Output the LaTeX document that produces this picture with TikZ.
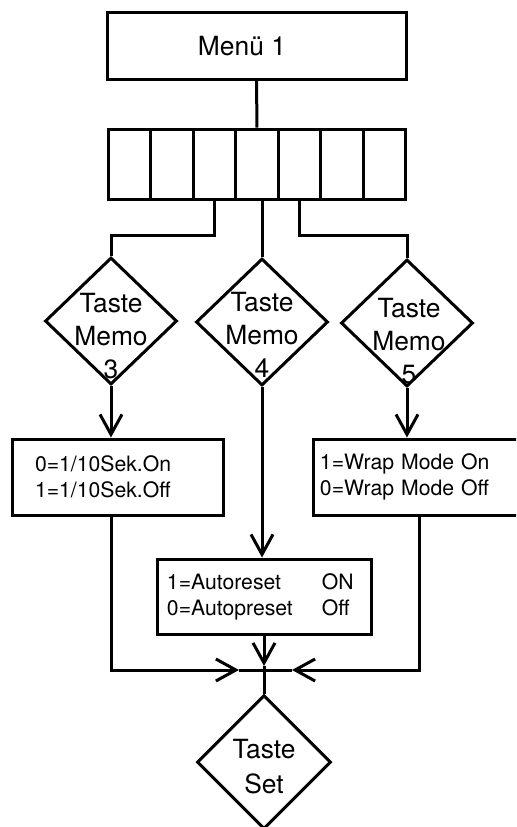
\documentclass[tikz,border=0pt]{standalone}
\usepackage{fontspec}
\setmainfont{TeX Gyre Heros}
\usetikzlibrary{shapes.geometric,arrows.meta}

\begin{document}
\begin{tikzpicture}[x=0.5pt,y=-0.5pt,line width=1.5pt,
			>={Straight Barb[length=10pt,width=11pt]},
			box/.style={draw,rectangle,inner sep=0pt},
			cell/.style={draw,rectangle,minimum width=21.286pt,minimum height=35pt,inner sep=0pt},
			dia/.style={draw,diamond,minimum width=66pt,minimum height=63.5pt,inner sep=0pt},
			big/.style={font=\fontsize{13.2}{16.5}\selectfont,align=center,inner sep=0pt},
			small/.style={font=\fontsize{10.6}{13}\selectfont,align=left,inner ysep=0pt}]
			\useasboundingbox (0,0) rectangle (516,827);
			\clip (0,0) rectangle (516,827);
			
			\node (menu) [box,minimum width=149.5pt,minimum height=33.5pt] at (256.5,45.5) {};
			\node (menutxt) [big] at (242,46) {Menü 1};
			
			\node (c1) [cell] at (129.3,164) {};
			\node (c2) [cell] at (171.9,164) {};
			\node (c3) [cell] at (214.4,164) {};
			\node (c4) [cell] at (257.0,164) {};
			\node (c5) [cell] at (299.6,164) {};
			\node (c6) [cell] at (342.1,164) {};
			\node (c7) [cell] at (384.7,164) {};
			
			\node (d3) [dia] at (111,321) {};
			\node (d4) [dia] at (262,322) {};
			\node (d5) [dia] at (407,323) {};
			\node (t3) [big] at (111,336) {Taste\\Memo\\3};
			\node (t4) [big] at (262,335) {Taste\\Memo\\4};
			\node (t5) [big] at (409,341) {Taste\\Memo\\5};
			
			\node (sek) [box,small,minimum width=105.5pt,minimum height=38pt,inner xsep=11.5pt,text width=82.5pt] at (117.5,477) {0=1/10Sek.On\\1=1/10Sek.Off};
			\node (wrap) [box,small,minimum width=106pt,minimum height=38pt,inner xsep=3.5pt,text width=99pt] at (419,477) {1=Wrap Mode On\\0=Wrap Mode Off};
			\node (auto) [box,small,minimum width=107pt,minimum height=37.5pt,inner xsep=5pt,text width=97pt] at (264,596.5) {\makebox[77.5pt][l]{1=Autoreset}ON\\\makebox[77.5pt][l]{0=Autopreset}Off};
			
			\node (set) [dia,minimum width=67pt,minimum height=67pt] at (264,762) {};
			\node (tset) [big,font=\fontsize{13.2}{17.5}\selectfont] at (264,767) {Taste\\Set};
			
			\coordinate (jn) at (264,670);
			\coordinate (tipl) at (239,670);
			\coordinate (tipr) at (292,670);
			\coordinate (tipa) at (264,666);
			
			\draw (menu.south) -- (c4.north);
			\draw (c3.south) -- ++(0,35) -| (d3.north);
			\draw (d4.north |- c4.south) -- (d4.north);
			\draw (c5.south) -- ++(0,35) -| (d5.north);
			
			\path (d3.south) edge [->] (d3.south |- sek.north);
			\path (d4.south) edge [->] (d4.south |- auto.north);
			\path (d5.south) edge [->] (d5.south |- wrap.north);
			
			\draw [->] (d3.south |- sek.south) |- (tipl);
			\draw (tipl) -- (jn);
			\draw [->] (wrap.south) |- (tipr);
			\draw (tipr) -- (jn);
			\draw [->] (auto.south) -- (tipa);
			\draw (tipa) -- (jn) -- (set.north);
			\end{tikzpicture}
\end{document}
